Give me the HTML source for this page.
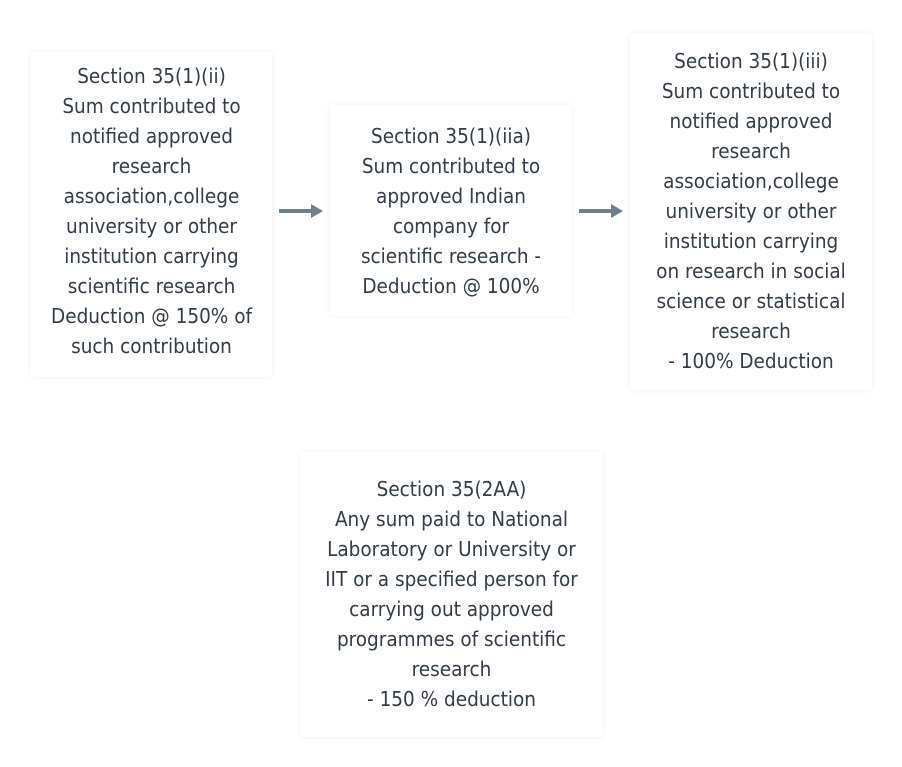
<!DOCTYPE html>
<html><head><style>
body{margin:0;width:902px;height:767px;background:#fff;position:relative;overflow:hidden;font-family:"DejaVu Sans Condensed","Liberation Sans",sans-serif;}
.b{position:absolute;background:#fff;box-shadow:0 0 6px rgba(0,0,0,0.07);border-radius:3px;}
.t{position:absolute;text-align:center;font-size:20.5px;line-height:30px;color:#333d47;white-space:nowrap;}
</style></head><body>
<div class="b" style="left:31px;top:52px;width:241px;height:325px"></div>
<div class="b" style="left:330px;top:105px;width:242px;height:211px"></div>
<div class="b" style="left:630px;top:33px;width:242px;height:357px"></div>
<div class="b" style="left:300px;top:452px;width:303px;height:285px"></div>
<div class="t" style="left:31px;width:241px;top:61px">Section 35(1)(ii)<br>Sum contributed to<br>notified approved<br>research<br>association,college<br>university or other<br>institution carrying<br>scientific research<br>Deduction @ 150% of<br>such contribution</div>
<div class="t" style="left:330px;width:242px;top:121px">Section 35(1)(iia)<br>Sum contributed to<br>approved Indian<br>company for<br>scientific research -<br>Deduction @ 100%</div>
<div class="t" style="left:630px;width:242px;top:46px">Section 35(1)(iii)<br>Sum contributed to<br>notified approved<br>research<br>association,college<br>university or other<br>institution carrying<br>on research in social<br>science or statistical<br>research<br>- 100% Deduction</div>
<div class="t" style="left:300px;width:303px;top:474px">Section 35(2AA)<br>Any sum paid to National<br>Laboratory or University or<br>IIT or a specified person for<br>carrying out approved<br>programmes of scientific<br>research<br>- 150 % deduction</div>
<svg width="902" height="767" style="position:absolute;left:0;top:0">
<g fill="#6f7f8e" stroke="#6f7f8e">
<line x1="279" y1="211" x2="313" y2="211" stroke-width="4"/>
<polygon points="311,204 323,211 311,218" stroke="none"/>
<line x1="579" y1="211" x2="613" y2="211" stroke-width="4"/>
<polygon points="611,204 623,211 611,218" stroke="none"/>
</g></svg>
</body></html>
